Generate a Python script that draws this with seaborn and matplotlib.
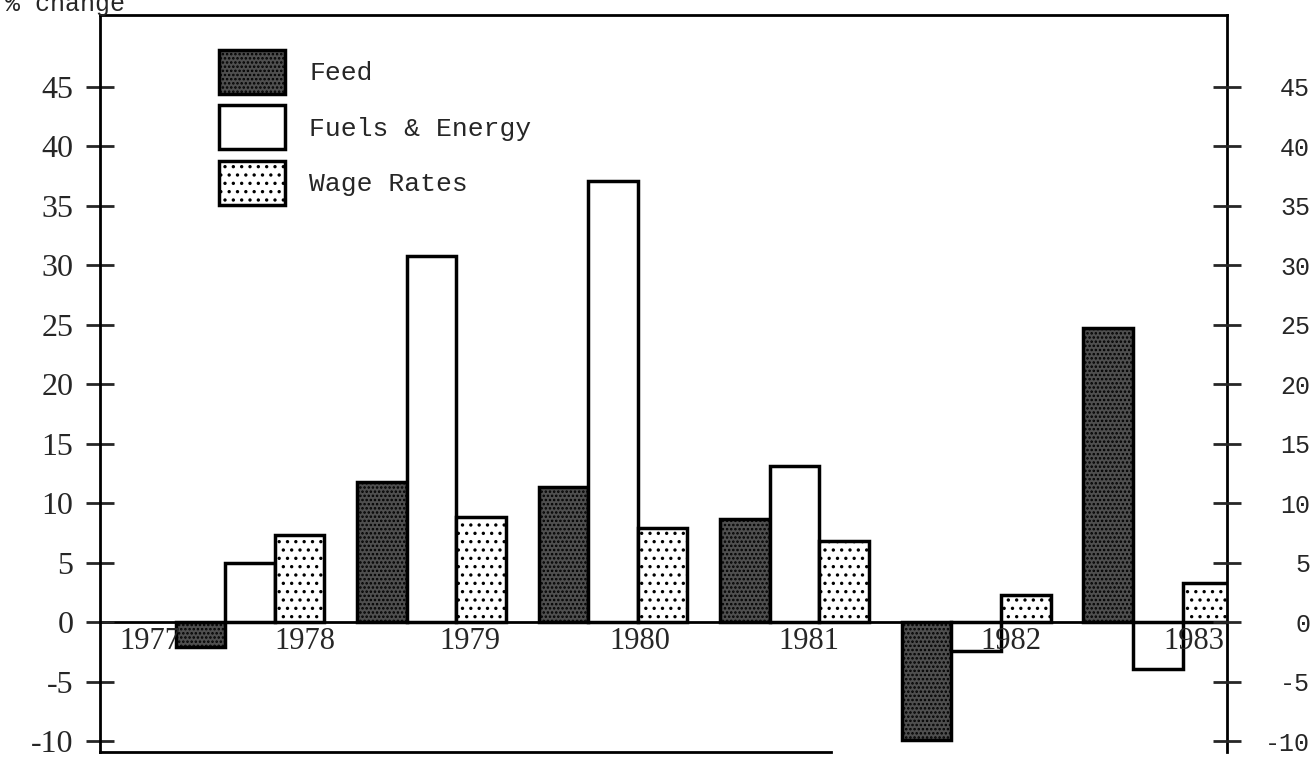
import pandas as pd
import seaborn as sns
import matplotlib.pyplot as plt
from matplotlib.patches import Patch

# year-on-year % change
periods = ["1977-78", "1978-79", "1979-80", "1980-81", "1981-82", "1982-83"]
feed = [-2.1, 11.8, 11.4, 8.7, -9.9, 24.7]
fuels = [5.0, 30.8, 37.1, 13.1, -2.4, -3.9]
wages = [7.3, 8.8, 7.9, 6.8, 2.3, 3.3]
series = ["Feed", "Fuels & Energy", "Wage Rates"]

year_labels = ["1977", "1978", "1979", "1980", "1981", "1982", "1983"]
year_pos = [-0.55, 0.30, 1.21, 2.15, 3.08, 4.19, 5.20]
y_ticks = [-10, -5, 0, 5, 10, 15, 20, 25, 30, 35, 40, 45]

df = pd.DataFrame({
    "period": periods * 3,
    "series": [s for s in series for _ in periods],
    "value": feed + fuels + wages,
})

sns.set_style("white")
plt.rcParams["hatch.linewidth"] = 1.2

fig, ax = plt.subplots(figsize=(13.12, 7.57), dpi=100)
fig.subplots_adjust(left=0.0762, right=0.935, top=0.980, bottom=0.0066)

sns.barplot(data=df, x="period", y="value", hue="series", hue_order=series,
            order=periods, width=0.82, edgecolor="black", linewidth=2.5,
            palette=["#4a4a4a", "white", "white"], legend=False, ax=ax)

styles = [("#4f4f4f", "...."), ("white", ""), ("white", "..")]
for cont, (fc, hatch) in zip(ax.containers, styles):
    for bar in cont:
        bar.set_facecolor(fc)
        bar.set_hatch(hatch)
        bar.set_edgecolor("black")

ax.axhline(0, color="black", lw=2, zorder=0.5)
ax.set_xlim(-0.826, 5.38)
ax.set_ylim(-10.9, 51)
ax.set_xticks([])
ax.set_xlabel("")
ax.set_ylabel("")

for lab, pos in zip(year_labels, year_pos):
    ax.text(pos, -0.4, lab, ha="center", va="top", fontsize=22,
            family="Liberation Serif")

for side in ["left", "right", "top", "bottom"]:
    ax.spines[side].set_visible(True)
    ax.spines[side].set_color("black")
    ax.spines[side].set_linewidth(2)
ax.spines["bottom"].set_bounds(-0.826, 3.2)

ax.set_yticks(y_ticks)
ax.set_yticklabels([str(t) for t in y_ticks], family="Liberation Serif", fontsize=23)
ax.tick_params(axis="y", direction="inout", length=20, width=2, pad=9, left=True)

ax2 = ax.twinx()
ax2.set_ylim(ax.get_ylim())
ax2.set_yticks(y_ticks)
ax2.set_yticklabels([str(t) for t in y_ticks], family="Liberation Mono", fontsize=18)
ax2.tick_params(axis="y", direction="inout", length=20, width=2, pad=50)
for lbl in ax2.get_yticklabels():
    lbl.set_horizontalalignment("right")
for side in ["left", "right", "top", "bottom"]:
    ax2.spines[side].set_visible(False)

handles = [Patch(facecolor=fc, hatch=h, edgecolor="black", linewidth=2.5)
           for fc, h in styles]
ax.legend(handles, series, loc="upper left", bbox_to_anchor=(0.085, 0.985),
          frameon=False, handlelength=2.5, handleheight=2.2, labelspacing=0.42,
          handletextpad=0.9, prop={"family": "Liberation Mono", "size": 19})

fig.text(0.004, 1 - 4 / 757, "% change", va="center", ha="left",
         family="Liberation Mono", fontsize=18)

fig.savefig("out.png", dpi=100)
